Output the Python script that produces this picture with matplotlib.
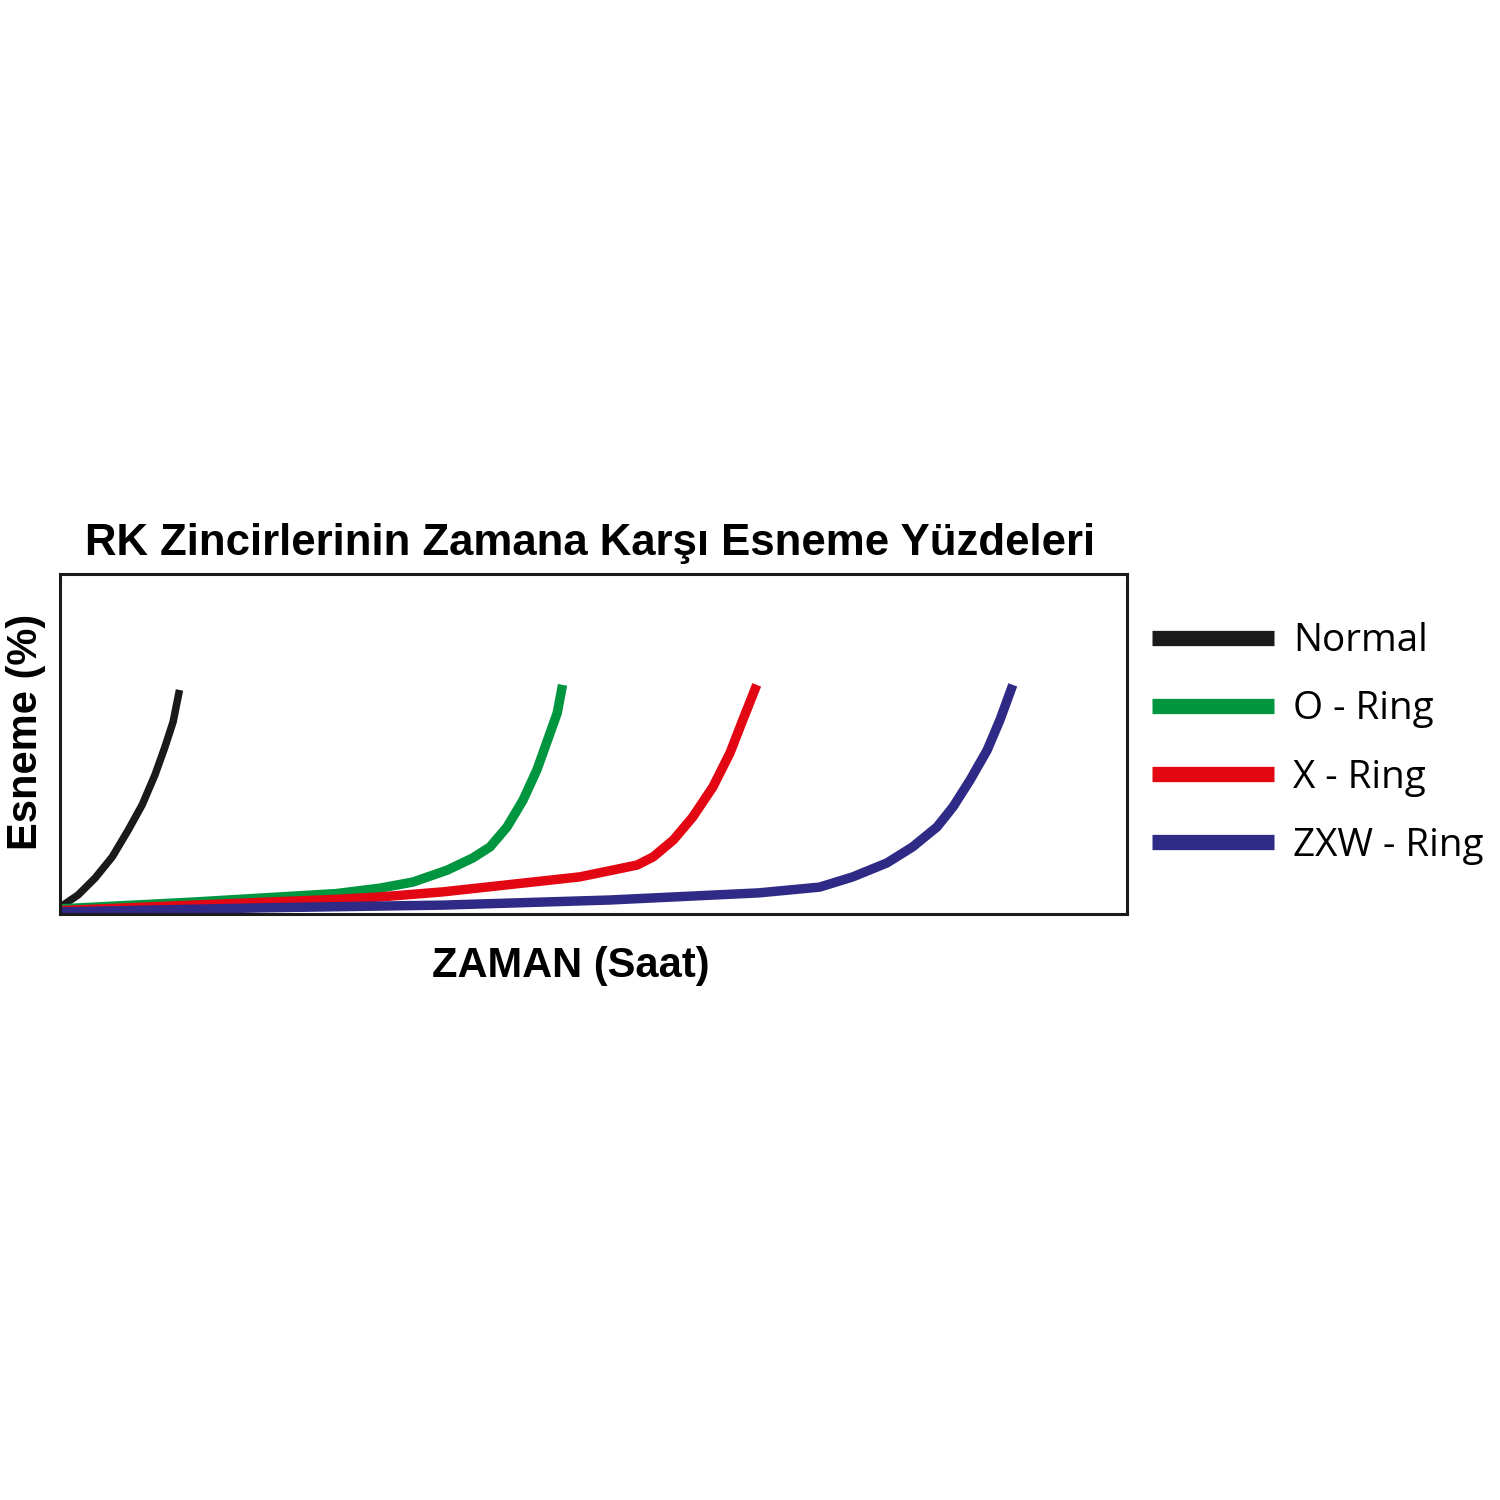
import matplotlib.pyplot as plt

# curves, x = time (0-100 across the box), y = stretch (0-100 up the box)
normal_x = [0.0, 0.3, 1.7, 3.3, 4.9, 6.4, 7.7, 8.9, 9.8, 10.6, 11.2]
normal_y = [0.8, 2.6, 5.6, 10.6, 16.8, 24.7, 32.1, 40.9, 48.8, 56.5, 65.9]

oring_x = [0.0, 12.5, 25.9, 30.0, 33.1, 36.3, 38.7, 40.3, 41.9, 43.4, 44.7, 45.6, 46.6, 47.1]
oring_y = [1.5, 3.5, 6.0, 7.6, 9.4, 12.9, 16.5, 19.7, 25.6, 33.5, 42.4, 50.3, 59.1, 67.4]

xring_x = [0.0, 12.5, 25.9, 30.0, 35.9, 48.7, 51.8, 54.1, 55.6, 57.5, 59.3, 61.2, 62.8, 64.0, 65.3]
xring_y = [1.0, 2.6, 4.3, 5.0, 6.5, 10.9, 12.9, 14.4, 16.8, 21.8, 28.5, 37.4, 47.4, 57.1, 67.4]

zxw_x = [0.0, 19.1, 35.9, 51.5, 65.5, 71.2, 74.3, 77.5, 79.9, 82.2, 83.7, 85.3, 86.9, 88.1, 89.3]
zxw_y = [0.6, 1.8, 2.6, 4.1, 6.2, 7.9, 10.9, 15.0, 19.7, 25.6, 31.5, 39.4, 48.2, 57.1, 67.4]

labels = ['Normal', 'O - Ring', 'X - Ring', 'ZXW - Ring']
colors = ['#1a1a1a', '#00963f', '#e30613', '#2e2a86']

fig = plt.figure(figsize=(15, 15), dpi=100)
ax = fig.add_axes([0.04, 0.3907, 0.7113, 0.2266])

series = [(normal_x, normal_y), (oring_x, oring_y), (xring_x, xring_y), (zxw_x, zxw_y)]
widths = [5.4, 6.8, 6.8, 6.8]
for (xs, ys), lab, col, lw in zip(series, labels, colors, widths):
    ax.plot(xs, ys, color=col, lw=lw, label=lab, solid_capstyle='butt', solid_joinstyle='round')

ax.set_xlim(0, 100)
ax.set_ylim(0, 100)
ax.set_xticks([])
ax.set_yticks([])
for s in ax.spines.values():
    s.set_linewidth(2.2)
    s.set_color('#1a1a1a')

ax.set_title('RK Zincirlerinin Zamana Karşı Esneme Yüzdeleri', fontsize=31.5,
             fontweight='bold', family='Liberation Sans', pad=14, x=0.497)
ax.set_xlabel('ZAMAN (Saat)', fontsize=30, fontweight='bold', family='Liberation Sans',
              labelpad=23, x=0.479)
ax.set_ylabel('Esneme (%)', fontsize=30, fontweight='bold', family='Liberation Sans',
              labelpad=10, y=0.535)

leg = ax.legend(loc='upper left', bbox_to_anchor=(1.0234, 0.858), frameon=False,
                prop={'family': 'Open Sans', 'size': 27.8}, handlelength=3.15,
                handletextpad=0.5, labelspacing=0.78, borderaxespad=0, borderpad=0)
for h in leg.get_lines():
    h.set_linewidth(11)

fig.savefig('out.png', dpi=100, facecolor='white')
